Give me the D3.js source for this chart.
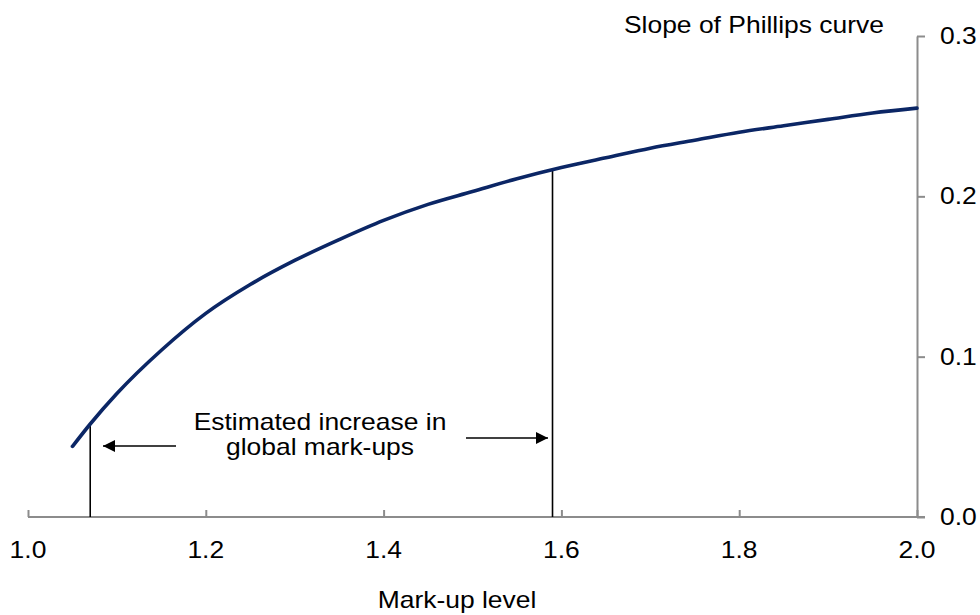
<!DOCTYPE html>
<html>
<head>
<meta charset="utf-8">
<script src="https://cdn.jsdelivr.net/npm/d3@7"></script>
<style>
  html, body { margin: 0; padding: 0; background: #fff; }
  svg { display: block; font-family: "Liberation Sans", Arial, sans-serif; }
</style>
</head>
<body>
<svg id="chart" width="980" height="615"></svg>
<script>
// Data
const markup = [1.05, 1.07, 1.10, 1.15, 1.20, 1.25, 1.30, 1.35, 1.40, 1.45, 1.50, 1.55, 1.60, 1.65, 1.70, 1.75, 1.80, 1.85, 1.90, 1.95, 2.00];
const slope  = [0.044, 0.058, 0.077, 0.104, 0.127, 0.145, 0.160, 0.173, 0.185, 0.195, 0.203, 0.211, 0.218, 0.224, 0.230, 0.235, 0.240, 0.244, 0.248, 0.252, 0.255];
const xTicks = [1.0, 1.2, 1.4, 1.6, 1.8, 2.0];
const yTicks = [0.0, 0.1, 0.2, 0.3];
const markerX = [1.07, 1.59];
const markerY = [0.058, 0.217];
const xTitle = "Mark-up level";
const yTitle = "Slope of Phillips curve";
const noteLines = ["Estimated increase in", "global mark-ups"];

const svg = d3.select("#chart");
const x = d3.scaleLinear().domain([1.0, 2.0]).range([28, 917]);
const y = d3.scaleLinear().domain([0, 0.3]).range([517, 36]);

const axisColor = "#8c8c8c";
const fs = 23, sx = 1.15;

// helper for horizontally stretched text
function label(g, tx, ty, text, anchor) {
  g.append("g").attr("transform", `translate(${tx},${ty}) scale(${sx},1)`)
    .append("text").attr("text-anchor", anchor || "middle")
    .attr("font-size", fs).attr("fill", "#000").text(text);
}

// X axis
const xAxis = d3.axisBottom(x).tickValues(xTicks).tickSizeInner(-7).tickSizeOuter(0).tickFormat("");
const gx = svg.append("g").attr("transform", `translate(0,${y(0)})`).call(xAxis);
gx.select(".domain").attr("stroke", axisColor).attr("stroke-width", 2).attr("d", `M${x(1.0)},0H${x(2.0) + 8}`);
gx.selectAll(".tick line").attr("stroke", axisColor).attr("stroke-width", 2);
const xl = svg.append("g");
xTicks.forEach(v => label(xl, x(v), 558, d3.format(".1f")(v)));

// Y axis (right)
const yAxis = d3.axisRight(y).tickValues(yTicks).tickSizeInner(8).tickSizeOuter(0).tickFormat("");
const gy = svg.append("g").attr("transform", `translate(${x(2.0)},0)`).call(yAxis);
gy.select(".domain").attr("stroke", axisColor).attr("stroke-width", 2);
gy.selectAll(".tick line").attr("stroke", axisColor).attr("stroke-width", 2);
const yl = svg.append("g");
yTicks.forEach(v => label(yl, 940, y(v) + 8, d3.format(".1f")(v), "start"));

// Titles
label(svg, 884, 33, yTitle, "end");
label(svg, 457, 608, xTitle);

// Marker vertical lines
svg.append("g").selectAll("line").data(markerX).join("line")
  .attr("x1", d => x(d)).attr("x2", d => x(d))
  .attr("y1", y(0)).attr("y2", (d, i) => y(markerY[i]))
  .attr("stroke", "#000").attr("stroke-width", 1.6);

// Curve
const line = d3.line().x((d, i) => x(markup[i])).y(d => y(d)).curve(d3.curveMonotoneX);
svg.append("path").datum(slope).attr("d", line)
  .attr("fill", "none").attr("stroke", "#0b2665").attr("stroke-width", 3.6)
  .attr("stroke-linecap", "round");

// Arrows
const defs = svg.append("defs");
defs.append("marker").attr("id", "ah").attr("viewBox", "0 0 10 10")
  .attr("refX", 10).attr("refY", 5).attr("markerWidth", 13).attr("markerHeight", 12)
  .attr("markerUnits", "userSpaceOnUse").attr("orient", "auto")
  .append("path").attr("d", "M0,0L10,5L0,10Z").attr("fill", "#000");
svg.append("line").attr("x1", 176).attr("x2", 103).attr("y1", 446).attr("y2", 446)
  .attr("stroke", "#000").attr("stroke-width", 1.6).attr("marker-end", "url(#ah)");
svg.append("line").attr("x1", 466).attr("x2", 548).attr("y1", 438).attr("y2", 438)
  .attr("stroke", "#000").attr("stroke-width", 1.6).attr("marker-end", "url(#ah)");

// Note text
label(svg, 320, 430, noteLines[0]);
label(svg, 320, 455, noteLines[1]);
</script>
</body>
</html>
